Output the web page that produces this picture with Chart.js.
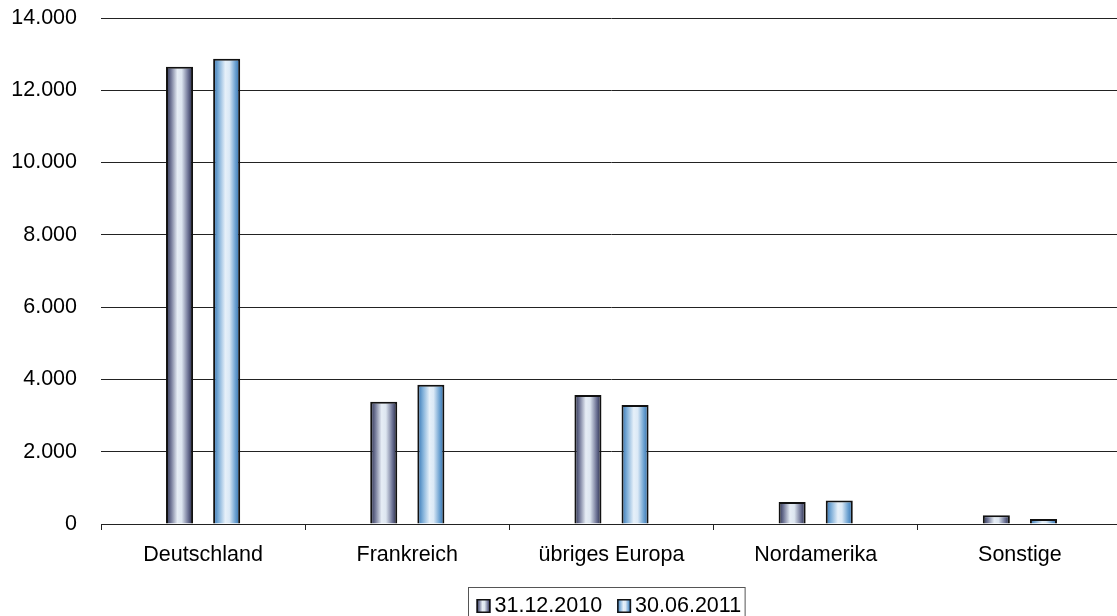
<!DOCTYPE html>
<html>
<head>
<meta charset="utf-8">
<script src="https://cdn.jsdelivr.net/npm/chart.js@4"></script>
<style>
  html, body { margin: 0; padding: 0; background: #fff; overflow: hidden; }
  #wrap { width: 1125px; height: 616px; }
</style>
</head>
<body>
<div id="wrap"><canvas id="c" width="1125" height="616"></canvas></div>
<script>
const categories = ['Deutschland', 'Frankreich', 'übriges Europa', 'Nordamerika', 'Sonstige'];
const seriesNames = ['31.12.2010', '30.06.2011'];
const values2010 = [12650, 3380, 3570, 610, 240];
const values2011 = [12870, 3850, 3290, 650, 140];
const yTicks = [0, 2000, 4000, 6000, 8000, 10000, 12000, 14000];

const FONT = '"Liberation Sans", Arial, sans-serif';
const CAT_PCT = 0.4615;
const BAR_PCT = 0.574;

const gradStops = [
  [[0, '#262a48'], [0.18, '#6f7595'], [0.42, '#e6edf5'], [0.58, '#dde6f0'], [0.82, '#6c7294'], [1, '#1d2140']],
  [[0, '#2f6faf'], [0.2, '#7eaed8'], [0.45, '#e6f0f9'], [0.6, '#dbe9f6'], [0.82, '#6da2d1'], [1, '#2a6aab']]
];

function fmt(v) {
  return String(v).replace(/\B(?=(\d{3})+(?!\d))/g, '.');
}

function barGradient(ctx) {
  const fallback = gradStops[ctx.datasetIndex || 0][2][1];
  const chart = ctx.chart;
  const xs = chart.scales && chart.scales.x;
  if (!xs || ctx.dataIndex === undefined) return fallback;
  const catW = (xs.right - xs.left) / categories.length;
  const slot = catW * CAT_PCT / 2;
  const center = xs.getPixelForValue(ctx.dataIndex) + (ctx.datasetIndex === 0 ? -slot / 2 : slot / 2);
  const w = slot * BAR_PCT;
  if (!isFinite(center) || !isFinite(w) || w <= 0) return fallback;
  const g = chart.ctx.createLinearGradient(center - w / 2, 0, center + w / 2, 0);
  gradStops[ctx.datasetIndex].forEach(s => g.addColorStop(s[0], s[1]));
  return g;
}

const boxLegend = {
  id: 'boxLegend',
  afterDraw(chart) {
    const c = chart.ctx;
    c.save();
    c.font = '21.5px ' + FONT;
    const sq = 14, gapSqText = 4, gapItems = 15, padL = 8, padR = 4;
    const widths = seriesNames.map(n => c.measureText(n).width);
    const total = padL + widths.reduce((a, w) => a + sq + gapSqText + w, 0) + gapItems * (seriesNames.length - 1) + padR;
    const cx = 606.5;
    const left = Math.round(cx - total / 2) + 0.5;
    const top = 587.5;
    c.strokeStyle = '#555';
    c.lineWidth = 1;
    c.strokeRect(left, top, total, 40);
    let x = left + padL;
    const midY = 605.5;
    seriesNames.forEach((n, i) => {
      const sy = Math.round(midY - sq / 2);
      const g = c.createLinearGradient(x, 0, x + sq, 0);
      gradStops[i].forEach(s => g.addColorStop(s[0], s[1]));
      c.fillStyle = g;
      c.fillRect(x, sy, sq, sq);
      c.strokeStyle = '#111';
      c.lineWidth = 1.5;
      c.strokeRect(x + 0.75, sy + 0.75, sq - 1.5, sq - 1.5);
      x += sq + gapSqText;
      c.fillStyle = '#000';
      c.textBaseline = 'middle';
      c.textAlign = 'left';
      c.fillText(n, x, midY + 1);
      x += widths[i] + gapItems;
    });
    c.restore();
  }
};

new Chart(document.getElementById('c'), {
  type: 'bar',
  data: {
    labels: categories,
    datasets: [
      { label: seriesNames[0], data: values2010, backgroundColor: barGradient, borderColor: '#111', borderWidth: 2, borderSkipped: 'bottom' },
      { label: seriesNames[1], data: values2011, backgroundColor: barGradient, borderColor: '#111', borderWidth: 2, borderSkipped: 'bottom' }
    ]
  },
  options: {
    responsive: false,
    animation: false,
    devicePixelRatio: 1,
    categoryPercentage: CAT_PCT,
    barPercentage: BAR_PCT,
    layout: { padding: { top: 0, right: 3, left: 0, bottom: 0 } },
    plugins: { legend: { display: false }, tooltip: { enabled: false } },
    scales: {
      x: {
        grid: { display: true, drawOnChartArea: false, drawTicks: true, tickLength: 6, color: '#222', offset: true },
        border: { display: true, color: '#222', width: 1 },
        ticks: { color: '#000', font: { family: FONT, size: 21.5 }, padding: 12, maxRotation: 0, autoSkip: false },
        afterFit(scale) { scale.height = 92; scale.paddingLeft = 0; scale.paddingRight = 0; }
      },
      y: {
        min: 0,
        max: 14000,
        afterBuildTicks(scale) { scale.ticks = yTicks.map(v => ({ value: v })); },
        grid: { color: '#222', drawTicks: false, lineWidth: 1 },
        border: { display: false },
        ticks: { color: '#000', font: { family: FONT, size: 21.5 }, padding: 24, callback: v => fmt(v) },
        afterFit(scale) { scale.width = 101; scale.paddingTop = 18; scale.paddingBottom = 0; }
      }
    }
  },
  plugins: [boxLegend]
});
</script>
</body>
</html>
